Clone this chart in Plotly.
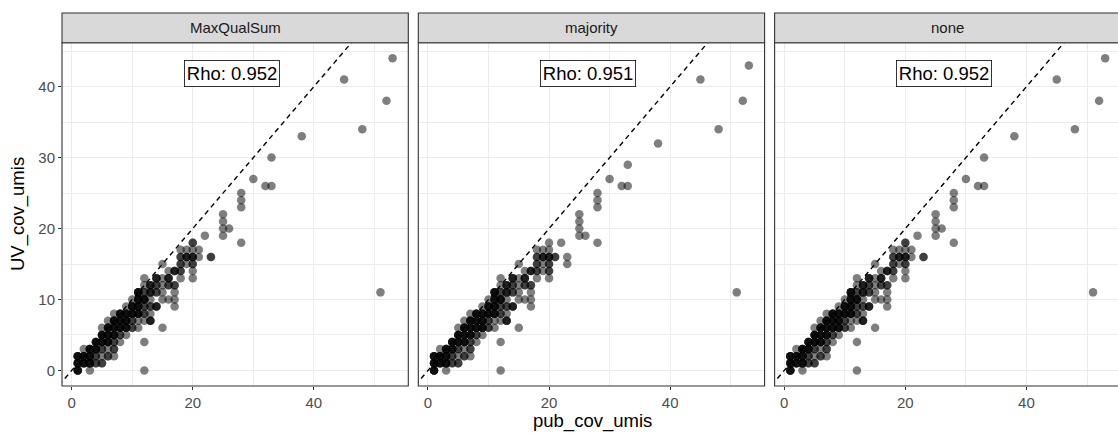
import plotly.graph_objects as go

# ---------------- data ----------------
panel_names = ["MaxQualSum", "majority", "none"]
rho_labels = ["Rho: 0.952", "Rho: 0.951", "Rho: 0.952"]

# MaxQualSum: integer (pub_cov_umis, UV_cov_umis) pairs and how many samples share each pair
mqs_x = [1, 3, 12,
         1, 2, 3, 4, 5,
         1, 2, 3, 4, 5, 6, 7,
         2, 3, 4, 5, 6, 7,
         4, 5, 6, 7, 8, 12,
         5, 6, 7, 8, 9,
         5, 6, 7, 8, 9, 10, 11, 15,
         6, 7, 8, 9, 10, 11, 12, 13,
         7, 8, 9, 10, 11, 12, 13,
         9, 10, 11, 12, 13, 14, 17,
         10, 11, 12, 13, 15, 16, 17,
         11, 12, 13, 14, 15, 17, 51,
         12, 13, 14, 15, 16, 17,
         12, 14, 15, 16, 18, 20,
         16, 17, 18, 20,
         15, 18, 19, 20,
         18, 19, 20, 21, 23,
         18, 19, 20, 21,
         20, 28,
         22, 25,
         25, 26,
         25, 25, 28, 28, 28,
         32, 33, 30, 33, 38, 48, 52, 45, 53]
mqs_y = [0, 0, 0,
         1, 1, 1, 1, 1,
         2, 2, 2, 2, 2, 2, 2,
         3, 3, 3, 3, 3, 3,
         4, 4, 4, 4, 4, 4,
         5, 5, 5, 5, 5,
         6, 6, 6, 6, 6, 6, 6, 6,
         7, 7, 7, 7, 7, 7, 7, 7,
         8, 8, 8, 8, 8, 8, 8,
         9, 9, 9, 9, 9, 9, 9,
         10, 10, 10, 10, 10, 10, 10,
         11, 11, 11, 11, 11, 11, 11,
         12, 12, 12, 12, 12, 12,
         13, 13, 13, 13, 13, 13,
         14, 14, 14, 14,
         15, 15, 15, 15,
         16, 16, 16, 16, 16,
         17, 17, 17, 17,
         18, 18,
         19, 19,
         20, 20,
         21, 22, 23, 24, 25,
         26, 26, 27, 30, 33, 34, 38, 41, 44]
mqs_n = [4, 1, 1,
         4, 4, 4, 2, 2,
         4, 4, 4, 2, 1, 2, 1,
         1, 4, 4, 2, 1, 2,
         4, 4, 4, 2, 1, 1,
         4, 4, 4, 2, 1,
         1, 4, 4, 4, 4, 2, 1, 1,
         1, 4, 4, 4, 2, 1, 1, 3,
         1, 4, 4, 4, 4, 2, 1,
         1, 4, 4, 2, 2, 3, 1,
         1, 4, 4, 1, 1, 1, 1,
         4, 2, 3, 2, 1, 1, 1,
         1, 3, 2, 1, 2, 2,
         1, 3, 1, 3, 1, 1,
         1, 3, 2, 1,
         1, 2, 1, 2,
         2, 3, 3, 1, 2,
         1, 1, 1, 1,
         2, 1,
         1, 1,
         1, 1,
         1, 1, 1, 1, 1,
         1, 1, 1, 1, 1, 1, 1, 1, 1]

# majority
maj_x = [1, 3, 12,
         1, 2, 3, 4, 5,
         1, 2, 3, 4, 5, 6, 7,
         2, 3, 4, 5, 6, 7,
         4, 5, 6, 7, 8, 12,
         5, 6, 7, 8, 9,
         5, 6, 7, 8, 9, 10, 11, 15,
         6, 7, 8, 9, 10, 11, 12, 13,
         7, 8, 9, 10, 11, 12, 13,
         9, 10, 11, 12, 13, 14, 17,
         10, 11, 12, 13, 15, 16, 17,
         11, 12, 13, 14, 15, 17, 51,
         12, 13, 14, 15, 16, 17,
         12, 14, 15, 16, 18, 20,
         16, 17, 18, 19, 20,
         15, 18, 19, 20, 23,
         18, 19, 20, 21, 23,
         18, 19, 20,
         20, 22, 28,
         25, 26,
         25,
         25, 25, 28, 28, 28,
         32, 33, 30, 33, 38, 48, 52, 45, 53]
maj_y = [0, 0, 0,
         1, 1, 1, 1, 1,
         2, 2, 2, 2, 2, 2, 2,
         3, 3, 3, 3, 3, 3,
         4, 4, 4, 4, 4, 4,
         5, 5, 5, 5, 5,
         6, 6, 6, 6, 6, 6, 6, 6,
         7, 7, 7, 7, 7, 7, 7, 7,
         8, 8, 8, 8, 8, 8, 8,
         9, 9, 9, 9, 9, 9, 9,
         10, 10, 10, 10, 10, 10, 10,
         11, 11, 11, 11, 11, 11, 11,
         12, 12, 12, 12, 12, 12,
         13, 13, 13, 13, 13, 13,
         14, 14, 14, 14, 14,
         15, 15, 15, 15, 15,
         16, 16, 16, 16, 16,
         17, 17, 17,
         18, 18, 18,
         19, 19,
         20,
         21, 22, 23, 24, 25,
         26, 26, 27, 29, 32, 34, 38, 41, 43]
maj_n = [4, 1, 1,
         4, 4, 4, 2, 2,
         4, 4, 4, 2, 1, 2, 1,
         1, 4, 4, 2, 1, 2,
         4, 4, 4, 2, 1, 1,
         4, 4, 4, 2, 1,
         1, 4, 4, 4, 4, 2, 1, 1,
         1, 4, 4, 4, 2, 1, 1, 3,
         1, 4, 4, 4, 4, 2, 1,
         1, 4, 4, 2, 2, 3, 1,
         1, 4, 4, 1, 1, 1, 1,
         4, 2, 3, 2, 1, 1, 1,
         1, 3, 2, 1, 2, 2,
         1, 3, 1, 3, 1, 1,
         1, 3, 2, 1, 2,
         1, 2, 1, 2, 1,
         2, 3, 3, 2, 1,
         1, 1, 1,
         1, 1, 1,
         1, 1,
         1,
         1, 1, 1, 1, 1,
         1, 1, 1, 1, 1, 1, 1, 1, 1]

# none (same pairs as MaxQualSum)
none_x = list(mqs_x)
none_y = list(mqs_y)
none_n = list(mqs_n)

panel_data = [(mqs_x, mqs_y, mqs_n), (maj_x, maj_y, maj_n), (none_x, none_y, none_n)]

x_ticks = [0, 20, 40]
y_ticks = [0, 10, 20, 30, 40]

# ---------------- layout constants ----------------
W, H = 1118, 433
ML, MT, MB = 62, 13, 47
plot_w = W - ML
plot_h = H - MT - MB
panel_px = 346.3
gap_px = 10.0
x_domains = []
for i in range(3):
    a = (i * (panel_px + gap_px)) / plot_w
    b = min(1.0, (i * (panel_px + gap_px) + panel_px) / plot_w)
    x_domains.append([a, b])
y_panel_top = (H - MB - 42.7) / plot_h

x_lo, x_hi = -1.6, 55.6
y_range = [-2.2, 46.2]

FONT = "Liberation Sans, Arial, Helvetica, sans-serif"
TICK_SIZE = 15
TITLE_SIZE = 18.5
fig = go.Figure()

for i, (px_, py_, pn_) in enumerate(panel_data):
    ax = "" if i == 0 else str(i + 1)
    ex = [xv for xv, c in zip(px_, pn_) for _ in range(c)]
    ey = [yv for yv, c in zip(py_, pn_) for _ in range(c)]
    fig.add_trace(go.Scatter(
        x=ex, y=ey, mode="markers", xaxis="x" + ax, yaxis="y" + ax,
        marker=dict(color="black", opacity=0.5, size=8.5, line=dict(width=0)),
        showlegend=False, hoverinfo="skip"))
    fig.add_trace(go.Scatter(
        x=[-5, 60], y=[-5, 60], mode="lines", xaxis="x" + ax, yaxis="y" + ax,
        line=dict(color="black", width=1.4, dash="5px,4px"),
        showlegend=False, hoverinfo="skip"))

    dom = x_domains[i]
    frac = (dom[1] - dom[0]) * plot_w / panel_px
    xr = [x_lo, x_lo + (x_hi - x_lo) * frac]

    fig.update_layout(**{
        "xaxis" + ax: dict(
            domain=dom, range=xr, anchor="y" + ax,
            tickmode="array", tickvals=x_ticks, ticktext=[str(t) for t in x_ticks],
            ticks="outside", ticklen=3, tickwidth=1, tickcolor="#333333",
            tickfont=dict(family=FONT, size=TICK_SIZE, color="#4D4D4D"),
            showgrid=True, gridcolor="#EBEBEB", gridwidth=1.3,
            minor=dict(tickmode="array", tickvals=[10, 30, 50], showgrid=True,
                       gridcolor="#EBEBEB", gridwidth=0.7, ticks=""),
            zeroline=False, showline=False),
        "yaxis" + ax: dict(
            domain=[0, y_panel_top], range=y_range, anchor="x" + ax,
            tickmode="array", tickvals=y_ticks,
            ticktext=[str(t) for t in y_ticks],
            showticklabels=(i == 0),
            ticks="outside" if i == 0 else "", ticklen=3, tickwidth=1, tickcolor="#333333",
            tickfont=dict(family=FONT, size=TICK_SIZE, color="#4D4D4D"),
            showgrid=True, gridcolor="#EBEBEB", gridwidth=1.3,
            minor=dict(tickmode="array", tickvals=[5, 15, 25, 35, 45], showgrid=True,
                       gridcolor="#EBEBEB", gridwidth=0.7, ticks=""),
            zeroline=False, showline=False),
    })

    xref_dom = "x" + ax + " domain"
    x1 = 1.0 / frac
    # panel border
    fig.add_shape(type="rect", xref=xref_dom, yref="paper", x0=0, x1=x1, y0=0, y1=y_panel_top,
                  line=dict(color="#333333", width=1.1), fillcolor="rgba(0,0,0,0)", layer="above")
    # strip
    fig.add_shape(type="rect", xref=xref_dom, yref="paper", x0=0, x1=x1, y0=y_panel_top, y1=1.0,
                  line=dict(color="#333333", width=1.1), fillcolor="#D9D9D9", layer="above")
    fig.add_annotation(xref=xref_dom, yref="paper", x=0.5 * x1, y=(1 + y_panel_top) / 2,
                       text=panel_names[i], showarrow=False,
                       font=dict(family=FONT, size=TICK_SIZE, color="#1A1A1A"),
                       xanchor="center", yanchor="middle")
    # rho label
    fig.add_annotation(xref="x" + ax, yref="y" + ax, x=26.4, y=41.8, text=rho_labels[i],
                       showarrow=False, font=dict(family=FONT, size=TITLE_SIZE, color="black"),
                       bgcolor="white", bordercolor="black", borderwidth=0.8, borderpad=2,
                       xanchor="center", yanchor="middle")

# axis titles
fig.add_annotation(xref="paper", yref="paper", x=(592 - ML) / plot_w, y=-(421 - (H - MB)) / plot_h,
                   text="pub_cov_umis", showarrow=False,
                   font=dict(family=FONT, size=TITLE_SIZE, color="black"),
                   xanchor="center", yanchor="middle")
fig.add_annotation(xref="paper", yref="paper", x=(18 - ML) / plot_w, y=((H - MB) - 214) / plot_h,
                   text="UV_cov_umis", showarrow=False, textangle=-90,
                   font=dict(family=FONT, size=TITLE_SIZE, color="black"),
                   xanchor="center", yanchor="middle")

fig.update_layout(
    width=W, height=H,
    margin=dict(l=ML, r=0, t=MT, b=MB, pad=0),
    paper_bgcolor="white", plot_bgcolor="white",
    showlegend=False,
)

fig.write_html("out.html")
